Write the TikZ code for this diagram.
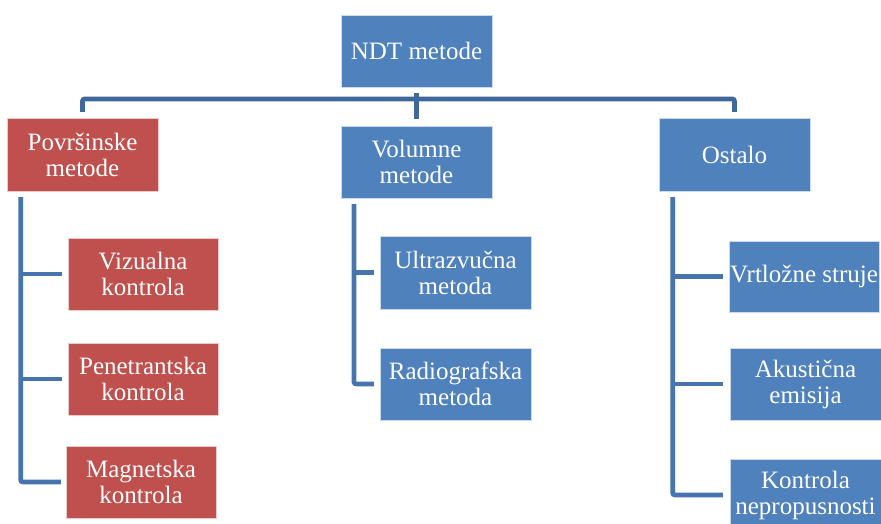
\documentclass[tikz,border=0pt]{standalone}
\usepackage{fontspec}
\setmainfont{Liberation Serif}
\definecolor{boxblue}{HTML}{4F81BD}
\definecolor{boxred}{HTML}{C0504D}
\definecolor{busline}{HTML}{41689A}
\definecolor{treeline}{HTML}{4674AE}
\tikzset{
  box/.style={rectangle, inner sep=0pt, align=center, text=white,
    font=\fontsize{25}{26}\selectfont, draw=white!70!#1, line width=0.5pt,
    fill=#1, minimum width=151pt, minimum height=72pt},
  bluebox/.style={box=boxblue},
  redbox/.style={box=boxred},
  bus/.style={draw=busline, line width=4.6pt, rounded corners=2pt},
  tree/.style={draw=treeline, line width=4.6pt, rounded corners=2pt}
}
\begin{document}
\begin{tikzpicture}[x=1pt,y=-1pt]
\fill[white] (0,0) rectangle (881,523);
\useasboundingbox (0,0) rectangle (881,523);
% top level
\node[bluebox] (ndt) at (416.5,51) {NDT metode};
\node[redbox, minimum height=73pt] (pov) at (82.5,154.5) {Površinske\\metode};
\node[bluebox] (vol) at (416.5,162) {Volumne\\metode};
\node[bluebox, minimum height=73pt] (ost) at (734.5,154.5) {Ostalo};
% children
\node[redbox, minimum width=150pt] (viz) at (143,274) {Vizualna\\kontrola};
\node[redbox, minimum width=150pt] (pen) at (143,379) {Penetrantska\\kontrola};
\node[redbox, minimum width=150pt] (mag) at (141,482) {Magnetska\\kontrola};
\node[bluebox, minimum height=73pt] (ult) at (455.5,272.5) {Ultrazvučna\\metoda};
\node[bluebox] (rad) at (455.5,384) {Radiografska\\metoda};
\node[bluebox, minimum width=150pt, minimum height=71pt] (vrt) at (804,276.5) {Vrtložne struje};
\node[bluebox] (aku) at (805.5,384) {Akustična\\emisija};
\node[bluebox] (kon) at (805.5,495) {Kontrola\\nepropusnosti};
% bus connector
\coordinate (busy) at (416.5,99);
\draw[bus] ([yshift=6pt]pov.north) |- (busy) -| ([yshift=6pt]ost.north);
\draw[bus] ([yshift=-6pt]ndt.south) -- ([yshift=7pt]vol.north);
% left tree
\coordinate (pl) at (20.7,197);
\draw[tree] (pl) |- ([xshift=-5pt]mag.west);
\draw[tree] (pl |- viz.west) -- ([xshift=-6pt]viz.west);
\draw[tree] (pl |- pen.west) -- ([xshift=-6pt]pen.west);
% middle tree
\coordinate (vl) at (354,204);
\draw[tree] (vl) |- ([xshift=-6pt]rad.west);
\draw[tree] (vl |- ult.west) -- ([xshift=-6pt]ult.west);
% right tree
\coordinate (ol) at (672.7,197);
\draw[tree] (ol) |- ([xshift=-7pt]kon.west);
\draw[tree] (ol |- vrt.west) -- ([xshift=-6pt]vrt.west);
\draw[tree] (ol |- aku.west) -- ([xshift=-7pt]aku.west);
\end{tikzpicture}
\end{document}
